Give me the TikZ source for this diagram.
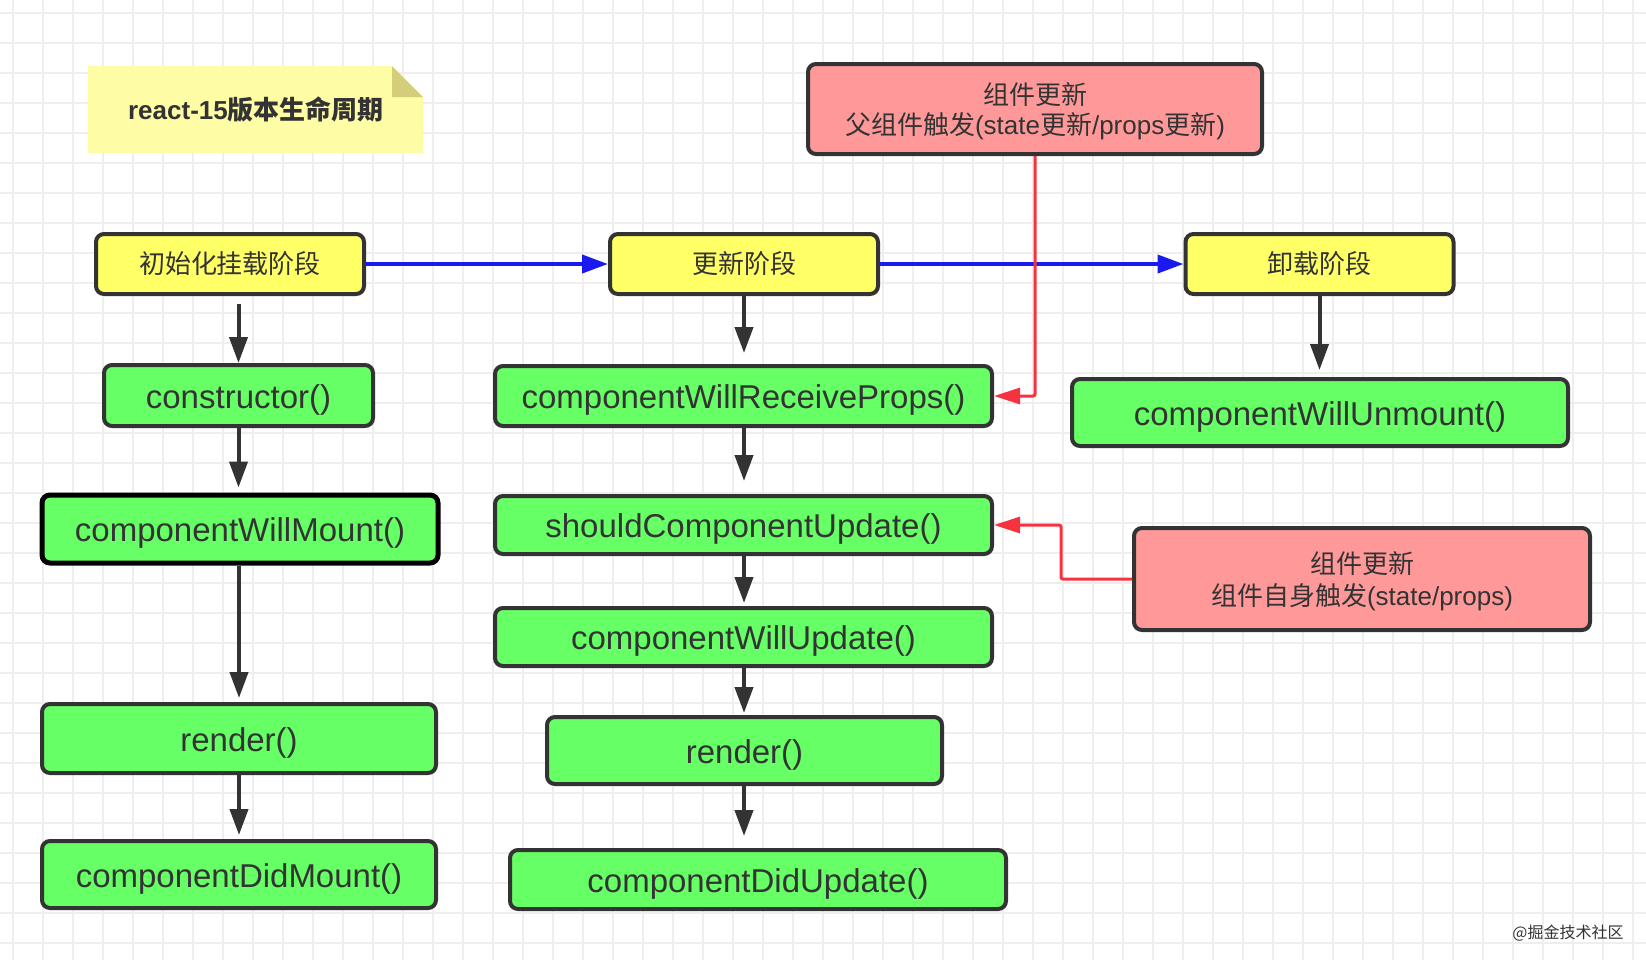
\documentclass[tikz,border=0pt]{standalone}
\usepackage{fontspec}
\setmainfont{Liberation Sans}
\newfontfamily\cjk{Noto Sans CJK SC}
\usetikzlibrary{arrows.meta}
\definecolor{ink}{HTML}{333333}
\definecolor{gridgray}{HTML}{EEEEEE}
\definecolor{phaseyellow}{HTML}{FFFF66}
\definecolor{hookgreen}{HTML}{66FF66}
\definecolor{triggerpink}{HTML}{FF9999}
\definecolor{notefill}{HTML}{FFFCA6}
\definecolor{notefold}{HTML}{D4CE7A}
\definecolor{jumpblue}{HTML}{1A1AF0}
\definecolor{causered}{HTML}{F5333F}

\begin{document}
\begin{tikzpicture}[x=0.5pt,y=-0.5pt]
\tikzset{
  box/.style={draw=ink,line width=2pt,rounded corners=4pt,text=ink,inner sep=0pt},
  phase/.style={box,fill=phaseyellow,minimum width=134pt,minimum height=30pt,
    font=\fontsize{13}{15}\selectfont\cjk},
  hook/.style={box,fill=hookgreen,text height=12.5pt,text depth=0pt,
    font=\fontsize{16.5}{18}\selectfont},
  trigger/.style={box,fill=triggerpink,align=center,text depth=0pt},
  flow/.style={draw=ink,line width=2pt,-{Triangle[length=13pt,width=9pt]}},
  jump/.style={draw=jumpblue,line width=2pt,-{Triangle[length=13pt,width=9pt]}},
  cause/.style={draw=causered,line width=1.5pt,rounded corners=1pt,
    -{Triangle[length=13pt,width=8pt]}},
}
\useasboundingbox (0,0) rectangle (1646,960);
\fill[white] (0,0) rectangle (1646,960);
\foreach \gx in {13,43,...,1633}
  \draw[gridgray,line width=0.8pt] (\gx,0) -- (\gx,960);
\foreach \gy in {13,43,...,943}
  \draw[gridgray,line width=0.8pt] (0,\gy) -- (1646,\gy);

\fill[notefill] (88,66) -- (392,66) -- (423,97) -- (423,153) -- (88,153) -- cycle;
\fill[notefold] (392,66) -- (392,97) -- (423,97) -- cycle;
\node[text=ink,font=\fontsize{13}{15}\selectfont\bfseries] (title) at (256,110)
  {react-15{\cjk 版本生命周期}};

\node[trigger,minimum width=227pt,minimum height=45pt,
  font=\fontsize{13}{15}\selectfont] (parent) at (1035,109)
  {{\cjk 组件更新}\\{\cjk 父组件触发}(state{\cjk 更新}/props{\cjk 更新})};
\node[trigger,minimum width=228pt,minimum height=51pt,
  font=\fontsize{13}{16}\selectfont] (self) at (1362,579)
  {{\cjk 组件更新}\\{\cjk 组件自身触发}(state/props)};

\node[phase] (mount) at (230,264) {初始化挂载阶段};
\node[phase] (update) at (744,264) {更新阶段};
\node[phase] (unmount) at (1319.5,264) {卸载阶段};

\node[hook,minimum width=134.5pt,minimum height=30.5pt] (ctor) at (238.5,395.5) {constructor()};
\node[hook,draw=black,line width=2.5pt,minimum width=198pt,minimum height=34pt]
  (willMount) at (240,529) {componentWillMount()};
\node[hook,minimum width=197pt,minimum height=34.5pt] (mountRender) at (239,738.5) {render()};
\node[hook,minimum width=197pt,minimum height=33.5pt] (didMount) at (239,874.5) {componentDidMount()};

\node[hook,minimum width=248.5pt,minimum height=30pt] (willReceive) at (743.5,396) {componentWillReceiveProps()};
\node[hook,minimum width=248.5pt,minimum height=29pt] (shouldUpdate) at (743.5,525) {shouldComponentUpdate()};
\node[hook,minimum width=248.5pt,minimum height=29pt] (willUpdate) at (743.5,637) {componentWillUpdate()};
\node[hook,minimum width=197.5pt,minimum height=33.5pt] (updateRender) at (744.5,750.5) {render()};
\node[hook,minimum width=248pt,minimum height=29.5pt] (didUpdate) at (758,879.5) {componentDidUpdate()};

\node[hook,minimum width=248pt,minimum height=33.5pt] (willUnmount) at (1320,412.5) {componentWillUnmount()};

\draw[jump] (mount) -- (update);
\draw[jump] (update) -- (unmount);

\draw[flow,shorten <=4pt] (mount.south -| ctor.north) -- (ctor.north);
\draw[flow,shorten >=2.5pt] (ctor.south) -- (ctor.south |- willMount.north);
\draw[flow,shorten >=2pt] (willMount.south -| mountRender.north) -- (mountRender.north);
\draw[flow,shorten >=2pt] (mountRender.south) -- (didMount.north);

\draw[flow,shorten >=5.5pt] (update.south) -- (update.south |- willReceive.north);
\draw[flow,shorten >=6.5pt] (willReceive.south -| update.south) -- (update.south |- shouldUpdate.north);
\draw[flow,shorten >=1.5pt] (shouldUpdate.south -| update.south) -- (update.south |- willUpdate.north);
\draw[flow,shorten >=1pt] (willUpdate.south -| update.south) -- (update.south |- updateRender.north);
\draw[flow,shorten >=6pt] (updateRender.south -| update.south) -- (update.south |- didUpdate.north);

\draw[flow,shorten >=3.5pt] (unmount.south) -- (unmount.south |- willUnmount.north);

\draw[cause] (parent.south) |- (willReceive.east);
\draw[cause] (self.west) -- ++(-71,0) |- (shouldUpdate.east);

\node[text=ink,font=\fontsize{8}{9}\selectfont\cjk] (mark) at (1568,933) {@掘金技术社区};
\end{tikzpicture}
\end{document}
